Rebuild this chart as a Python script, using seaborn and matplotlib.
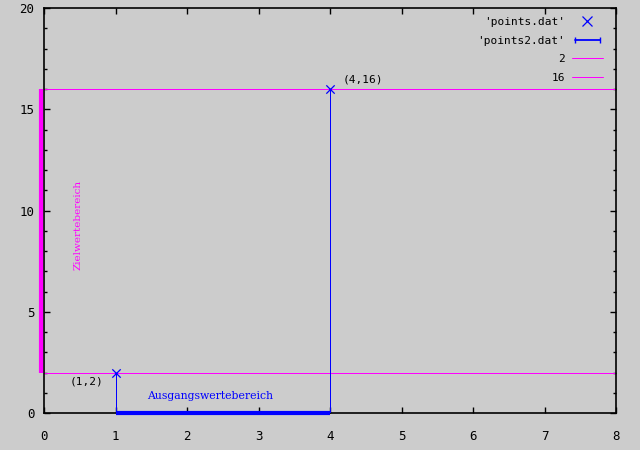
import numpy as np
import pandas as pd
import matplotlib
matplotlib.use("Agg")
import matplotlib.pyplot as plt
import matplotlib.transforms as mtransforms
from matplotlib.lines import Line2D
from matplotlib.legend_handler import HandlerLine2D
from matplotlib.ticker import NullLocator
import seaborn as sns

# data
points_x = [1, 4]
points_y = [2, 16]
point_labels = ["(1,2)", "(4,16)"]
points2_x = [1, 4]          # source range (Ausgangswertebereich)
points2_y = [0, 0]
target_y = [2, 16]          # target range (Zielwertebereich)
hlines = [2, 16]
xlim = (0, 8)
ylim = (0, 20)

BG = "#cccccc"
BLUE = "#0000ff"
MAG = "#ff00ff"
THIN = 0.72  # about one pixel

sns.set_theme(style="ticks")
plt.rcParams["font.family"] = ["DejaVu Sans Mono", "DejaVu Sans"]
plt.rcParams["text.color"] = "black"

fig = plt.figure(figsize=(6.4, 4.5), dpi=100, facecolor=BG)
ax = fig.add_axes([44 / 640, 37 / 450, 572 / 640, 405 / 450])
ax.set_facecolor(BG)

# horizontal function lines 2 and 16
xs = np.array(xlim)
for h in hlines:
    ax.plot(xs, [h, h], color=MAG, lw=THIN, antialiased=False,
            label=str(h), zorder=2)

# impulses
ax.vlines(points_x, 0, points_y, color=BLUE, lw=THIN, antialiased=False,
          zorder=3)

# points
df = pd.DataFrame({"x": points_x, "y": points_y})
sns.scatterplot(data=df, x="x", y="y", marker="x", s=36, color=BLUE,
                linewidth=0.9, ax=ax, zorder=4, legend=False)

# source range along x axis
ax.plot(points2_x, points2_y, color=BLUE, lw=3, solid_capstyle="butt",
        clip_on=False, zorder=5)

# target range along y axis (drawn just left of the axis)
off = mtransforms.offset_copy(ax.transData, fig=fig, x=-3, y=0, units="dots")
ax.plot([0, 0], target_y, color=MAG, lw=3, solid_capstyle="butt",
        transform=off, clip_on=False, zorder=5)

# point labels
ax.annotate(point_labels[0], (points_x[0], points_y[0]), xytext=(-29, -9),
            textcoords="offset pixels", ha="center", va="center", fontsize=8)
ax.annotate(point_labels[1], (points_x[1], points_y[1]), xytext=(13, 9),
            textcoords="offset pixels", ha="left", va="center", fontsize=8)

ax.text(2.32, 0.84, "Ausgangswertebereich", color=BLUE, ha="center",
        va="center", fontsize=7.8, family="DejaVu Serif")
ax.text(0.475, 9.3, "Zielwertebereich", color=MAG, ha="center",
        va="center", rotation=90, fontsize=7.5, family="DejaVu Serif")

ax.set_xlim(*xlim)
ax.set_ylim(*ylim)
ax.set_xticks(range(0, 9))
ax.xaxis.set_minor_locator(NullLocator())
ax.set_yticks(range(0, 21, 5))
ax.set_yticks(range(0, 21), minor=True)
ax.tick_params(which="both", direction="in", top=True, right=True,
               labelsize=9, colors="black", pad=7)
ax.tick_params(which="major", length=4, width=1)
ax.tick_params(which="minor", length=2, width=1)
ax.tick_params(axis="x", pad=12)
ax.set_xlabel("")
ax.set_ylabel("")
for s in ax.spines.values():
    s.set_color("black")
    s.set_linewidth(1.2)

# legend
h_pts = Line2D([], [], marker="x", color=BLUE, ls="none", markersize=7, mew=0.9)
h_pts2 = Line2D([0, 1], [0, 0], marker="|", color=BLUE, lw=1.3, markersize=4)
h_2 = Line2D([], [], color=MAG, lw=THIN, antialiased=False)
h_16 = Line2D([], [], color=MAG, lw=THIN, antialiased=False)
leg = ax.legend([h_pts, h_pts2, h_2, h_16],
                ["'points.dat'", "'points2.dat'", "2", "16"],
                loc="upper right", bbox_to_anchor=(1 - 13 / 572, 1 - 9 / 405),
                markerfirst=False, frameon=False,
                fontsize=8, handlelength=2.8, labelspacing=0.78,
                handletextpad=0.6, borderaxespad=0, borderpad=0,
                handler_map={h_pts: HandlerLine2D(numpoints=1),
                             h_pts2: HandlerLine2D(numpoints=2)})
for t in leg.get_texts():
    t.set_ha("right")
    t.set_color("black")

fig.savefig("out.png", dpi=100, facecolor=BG)
